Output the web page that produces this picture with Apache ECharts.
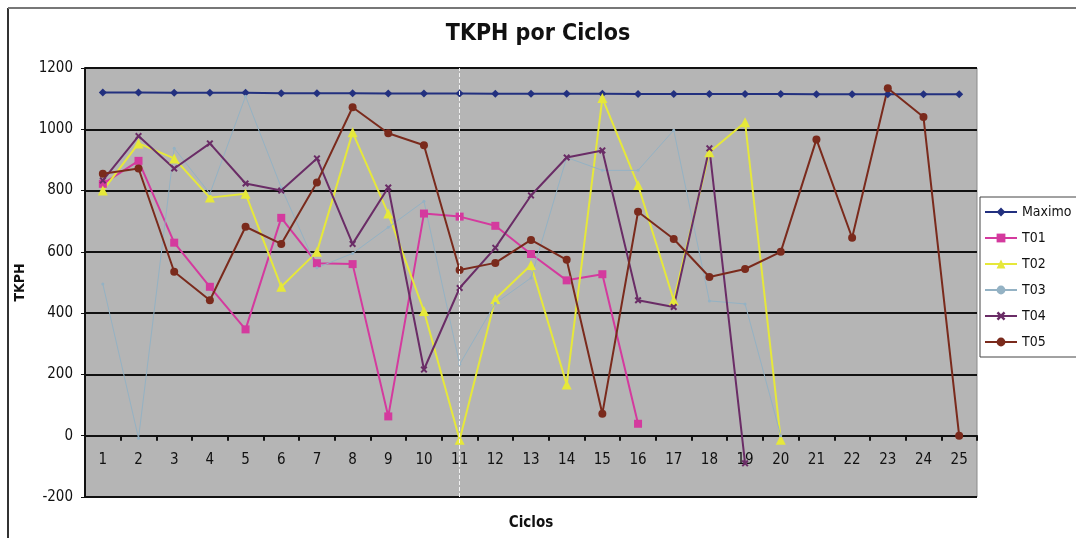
<!DOCTYPE html>
<html>
<head>
<meta charset="utf-8">
<script src="https://cdn.jsdelivr.net/npm/echarts@6/dist/echarts.min.js"></script>
<style>
  html, body { margin: 0; padding: 0; background: #fff; }
  #main { width: 1076px; height: 538px; }
</style>
</head>
<body>
<div id="main"></div>
<script>
// ciclos 1..25
const ciclos = ['1','2','3','4','5','6','7','8','9','10','11','12','13','14','15','16','17','18','19','20','21','22','23','24','25']

const maximo = [1120,1120,1119,1119,1119,1118,1118,1118,1117,1117,1117,1116,1116,1116,1116,1115,1115,1115,1115,1115,1114,1114,1114,1114,1114]
const t01 = [822,897,630,486,347,711,563,560,63,725,715,685,593,507,527,39]
const t02 = [800,954,905,777,790,486,600,990,725,407,-13,446,557,167,1102,818,442,925,1023,-13]
const t03 = [495,-8,938,790,1108,810,548,595,680,765,233,432,515,908,866,866,997,440,430,0]
const t04 = [833,978,872,954,823,800,905,626,810,216,482,613,784,908,931,442,420,938,-90]
const t05 = [855,872,535,442,682,626,826,1072,987,948,541,564,639,574,72,731,642,518,544,600,967,646,1134,1040,0]

const font = "'DejaVu Sans Condensed', 'Liberation Sans Narrow', 'Liberation Sans', sans-serif"

const chart = echarts.init(document.getElementById('main'))

function serie(name, data, color, symbol, size, width) {
    return {
        name: name,
        type: 'line',
        data: data,
        symbol: symbol,
        symbolSize: size,
        lineStyle: { color: color, width: width },
        itemStyle: { color: color },
        emphasis: { disabled: true },
        z: 3
    }
}

const option = {
    backgroundColor: '#fff',
    animation: false,
    title: {
        text: 'TKPH por Ciclos',
        left: 'center',
        top: 18,
        textStyle: { fontFamily: font, fontSize: 23, fontWeight: 'bold', color: '#111' }
    },
    legend: {
        orient: 'vertical',
        left: 980,
        top: 197,
        itemGap: 12,
        itemWidth: 32,
        itemHeight: 11,
        backgroundColor: '#fff',
        borderColor: '#444',
        borderWidth: 1,
        padding: [8, 10, 8, 4],
        textStyle: { fontFamily: font, fontSize: 14, color: '#111' },
        data: ['Maximo', 'T01', 'T02', 'T03', 'T04', 'T05']
    },
    grid: {
        left: 85,
        right: 99,
        top: 68,
        bottom: 41,
        outerBoundsMode: 'none',
        containLabel: false,
        show: true,
        backgroundColor: '#b5b5b5',
        borderColor: '#8a8a8a',
        borderWidth: 1
    },
    xAxis: {
        type: 'category',
        data: ciclos,
        boundaryGap: true,
        name: 'Ciclos',
        nameLocation: 'middle',
        nameGap: 19,
        nameTextStyle: { fontFamily: font, fontSize: 15, fontWeight: 'bold', color: '#111' },
        axisLine: { onZero: true, lineStyle: { color: '#111', width: 2 } },
        axisTick: { show: true, length: 5, lineStyle: { color: '#111', width: 2 } },
        axisLabel: { fontFamily: font, fontSize: 15, color: '#111', inside: true, margin: 29 },
        splitLine: { show: false }
    },
    yAxis: {
        type: 'value',
        min: -200,
        max: 1200,
        interval: 200,
        name: 'TKPH',
        nameLocation: 'middle',
        nameGap: 56,
        nameTextStyle: { fontFamily: font, fontSize: 14, fontWeight: 'bold', color: '#111' },
        axisLine: { show: true, lineStyle: { color: '#111', width: 2 } },
        axisTick: { show: true, length: 4, lineStyle: { color: '#111' } },
        axisLabel: { fontFamily: font, fontSize: 15, color: '#111', margin: 12, formatter: v => String(v) },
        splitLine: { show: true, lineStyle: { color: '#111', width: 2 } }
    },
    series: [
        Object.assign(serie('Maximo', maximo, '#22307f', 'diamond', 8, 2), {
            markLine: {
                silent: true,
                symbol: 'none',
                label: { show: false },
                lineStyle: { color: '#f2f2f2', type: 'dashed', width: 1 },
                data: [{ xAxis: '11' }]
            }
        }),
        serie('T01', t01, '#d43a9e', 'rect', 8, 2),
        serie('T02', t02, '#e6e83a', 'triangle', 10, 2),
        serie('T03', t03, '#94b2c4', 'circle', 3, 1),
        serie('T04', t04, '#6a2c66', 'path://M0,2L2,0L5,3L8,0L10,2L7,5L10,8L8,10L5,7L2,10L0,8L3,5Z', 7, 2),
        serie('T05', t05, '#7a2a1c', 'circle', 8, 2)
    ]
}

chart.setOption(option)

// marco exterior del grafico
chart.setOption({
    graphic: [
        { type: 'line', shape: { x1: 8, y1: 8, x2: 8, y2: 538 }, style: { stroke: '#333', lineWidth: 2 } },
        { type: 'line', shape: { x1: 8, y1: 8, x2: 1076, y2: 8 }, style: { stroke: '#777', lineWidth: 2 } }
    ]
})
</script>
</body>
</html>
